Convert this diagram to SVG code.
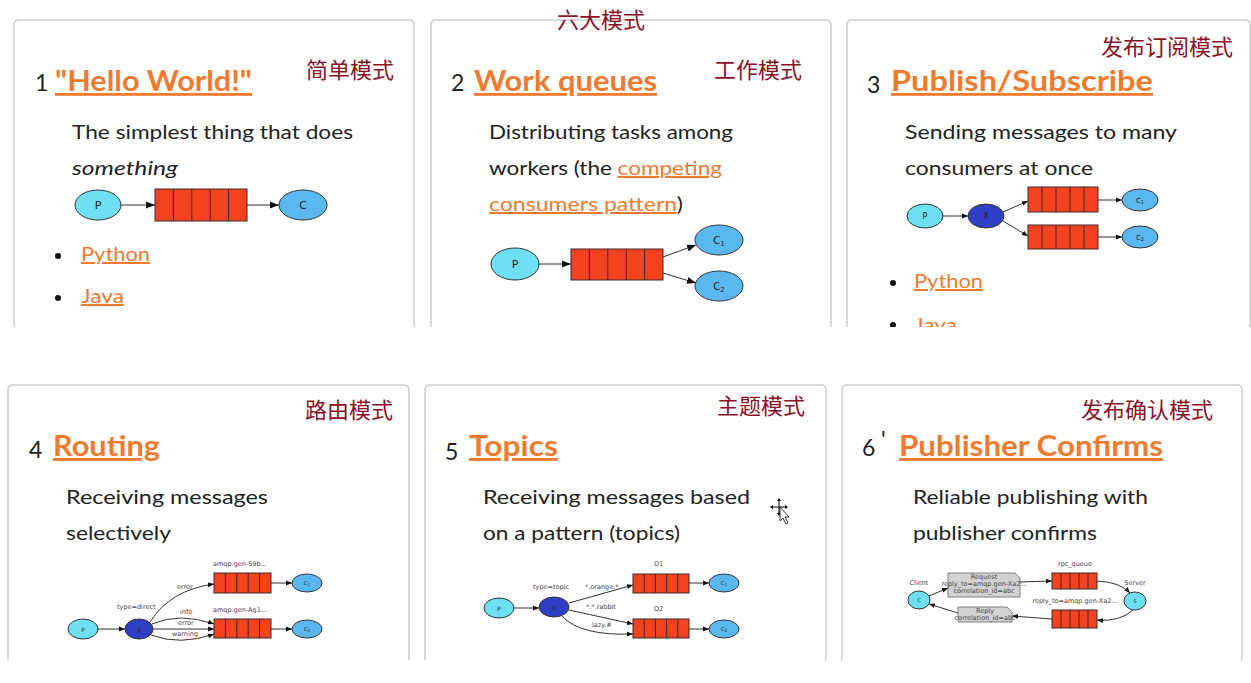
<svg xmlns="http://www.w3.org/2000/svg" width="1251" height="683" viewBox="0 0 1251 683">
<style>
.panel{fill:#fff;stroke:#cfcfcf;stroke-width:1.6}
.num{font-family:Lato,"Open Sans",sans-serif;font-size:23px;fill:#222}
.title{font-family:Lato,"Open Sans",sans-serif;font-size:28px;font-weight:bold;fill:#f07a2e;text-decoration:underline}
.body{font-family:Lato,"Open Sans",sans-serif;font-size:20px;fill:#222}
.link{fill:#f07a2e;text-decoration:underline}
.cn{font-family:"Noto Sans CJK SC",sans-serif;font-size:22px;fill:#8b1026}
.q{fill:#f5431f;stroke:#3a2a2a;stroke-width:1}
.qd{stroke:#3a2a2a;stroke-width:1}
.p{fill:#6de0f3;stroke:#333;stroke-width:1}
.c{fill:#5ab8ef;stroke:#333;stroke-width:1}
.x{fill:#2f3fc4;stroke:#333;stroke-width:1}
.lbl{font-family:"DejaVu Sans",sans-serif;fill:#222;text-anchor:middle}
.sm{font-family:"DejaVu Sans",sans-serif;font-size:6.5px;fill:#444}
.edge{fill:none;stroke:#333;stroke-width:1}
.bullet{fill:#111}
.box{fill:#d2d2d2;stroke:#666;stroke-width:0.8}
</style>
<defs>
<marker id="ab" viewBox="0 0 10 10" refX="10" refY="5" markerWidth="9" markerHeight="9" markerUnits="userSpaceOnUse" orient="auto"><path d="M0,1 L10,5 L0,9 z" fill="#111"/></marker>
<marker id="as" viewBox="0 0 10 10" refX="10" refY="5" markerWidth="6" markerHeight="6" markerUnits="userSpaceOnUse" orient="auto"><path d="M0,1 L10,5 L0,9 z" fill="#111"/></marker>
<clipPath id="topclip"><rect x="0" y="0" width="1251" height="327"/></clipPath>
<clipPath id="botclip"><rect x="0" y="340" width="1251" height="320"/></clipPath>
</defs>
<rect width="1251" height="683" fill="#fff"/>

<!-- panel frames -->
<g id="frames">
<path class="panel" d="M14,327 V25 Q14,20 19,20 H409 Q414,20 414,25 V327"/>
<path class="panel" d="M431,327 V25 Q431,20 436,20 H826 Q831,20 831,25 V327"/>
<path class="panel" d="M847,327 V25 Q847,20 852,20 H1245 Q1250,20 1250,25 V327"/>
<path class="panel" d="M8,660 V390 Q8,385 13,385 H404 Q409,385 409,390 V660"/>
<path class="panel" d="M425,660 V390 Q425,385 430,385 H821 Q826,385 826,390 V660"/>
<path class="panel" d="M842,660 V390 Q842,385 847,385 H1237 Q1242,385 1242,390 V660"/>
</g>

<text class="cn" x="557" y="28">六大模式</text>

<!-- Panel 1 -->
<g id="panel1" clip-path="url(#topclip)">
<text class="num" x="35" y="91">1</text>
<text class="title" x="55" y="91" textLength="197" lengthAdjust="spacingAndGlyphs">"Hello World!"</text>
<text class="cn" x="306" y="78">简单模式</text>
<text class="body" x="72" y="139" textLength="281" lengthAdjust="spacingAndGlyphs">The simplest thing that does</text>
<text class="body" x="72" y="175" font-style="italic" textLength="106" lengthAdjust="spacingAndGlyphs">something</text>
<circle class="bullet" cx="58" cy="256" r="3"/>
<text class="body link" x="81" y="261" textLength="69" lengthAdjust="spacingAndGlyphs">Python</text>
<circle class="bullet" cx="58" cy="298" r="3"/>
<text class="body link" x="81" y="303" textLength="43" lengthAdjust="spacingAndGlyphs">Java</text>
</g>
<g id="p1-P"><ellipse class="p" cx="98" cy="205" rx="23" ry="15"/><text class="lbl" x="98" y="209" font-size="11">P</text></g>
<g id="p1-queue"><rect class="q" x="155" y="189" width="92" height="32"/><path class="qd" d="M173.4,189v32M191.8,189v32M210.2,189v32M228.6,189v32"/></g>
<g id="p1-C"><ellipse class="c" cx="303" cy="205" rx="24" ry="15"/><text class="lbl" x="303" y="209" font-size="11">C</text></g>

<!-- Panel 2 -->
<g id="panel2" clip-path="url(#topclip)">
<text class="num" x="451" y="91">2</text>
<text class="title" x="474" y="91" textLength="183" lengthAdjust="spacingAndGlyphs">Work queues</text>
<text class="cn" x="714" y="78">工作模式</text>
<text class="body" x="489" y="139" textLength="244" lengthAdjust="spacingAndGlyphs">Distributing tasks among</text>
<text class="body" x="489" y="175" textLength="233" lengthAdjust="spacingAndGlyphs">workers (the <tspan class="link">competing</tspan></text>
<text class="body" x="489" y="211" textLength="194" lengthAdjust="spacingAndGlyphs"><tspan class="link">consumers pattern</tspan>)</text>
</g>
<g id="p2-P"><ellipse class="p" cx="515" cy="264" rx="24" ry="16"/><text class="lbl" x="515" y="268" font-size="11">P</text></g>
<g id="p2-queue"><rect class="q" x="571" y="249" width="92" height="31"/><path class="qd" d="M589.4,249v31M607.8,249v31M626.2,249v31M644.6,249v31"/></g>
<g id="p2-C1"><ellipse class="c" cx="719" cy="240" rx="24" ry="15"/><text class="lbl" x="719" y="244" font-size="10">C<tspan font-size="7" dy="2">1</tspan></text></g>
<g id="p2-C2"><ellipse class="c" cx="719" cy="286" rx="24" ry="15"/><text class="lbl" x="719" y="290" font-size="10">C<tspan font-size="7" dy="2">2</tspan></text></g>

<!-- Panel 3 -->
<g id="panel3" clip-path="url(#topclip)">
<text class="num" x="867" y="93">3</text>
<text class="title" x="891" y="91" textLength="262" lengthAdjust="spacingAndGlyphs">Publish/Subscribe</text>
<text class="cn" x="1101" y="55">发布订阅模式</text>
<text class="body" x="905" y="139" textLength="272" lengthAdjust="spacingAndGlyphs">Sending messages to many</text>
<text class="body" x="905" y="175" textLength="188" lengthAdjust="spacingAndGlyphs">consumers at once</text>
<circle class="bullet" cx="893" cy="283" r="3"/>
<text class="body link" x="914" y="288" textLength="69" lengthAdjust="spacingAndGlyphs">Python</text>
<circle class="bullet" cx="893" cy="325" r="3"/>
<text class="body link" x="914" y="332" textLength="43" lengthAdjust="spacingAndGlyphs">Java</text>
</g>
<g id="p3-P"><ellipse class="p" cx="925" cy="216" rx="18" ry="12"/><text class="lbl" x="925" y="219" font-size="8">P</text></g>
<g id="p3-X"><ellipse class="x" cx="986" cy="216" rx="18" ry="12"/><text class="lbl" x="986" y="219" font-size="8" fill="#222">X</text></g>
<g id="p3-Q1"><rect class="q" x="1028" y="187" width="70" height="25"/><path class="qd" d="M1042,187v25M1056,187v25M1070,187v25M1084,187v25"/></g>
<g id="p3-Q2"><rect class="q" x="1028" y="225" width="70" height="24"/><path class="qd" d="M1042,225v24M1056,225v24M1070,225v24M1084,225v24"/></g>
<g id="p3-C1"><ellipse class="c" cx="1140" cy="200" rx="18" ry="11"/><text class="lbl" x="1140" y="203" font-size="7">C<tspan font-size="5" dy="1">1</tspan></text></g>
<g id="p3-C2"><ellipse class="c" cx="1140" cy="237" rx="18" ry="11"/><text class="lbl" x="1140" y="240" font-size="7">C<tspan font-size="5" dy="1">2</tspan></text></g>

<!-- Panel 4 -->
<g id="panel4" clip-path="url(#botclip)">
<text class="num" x="29" y="458">4</text>
<text class="title" x="53" y="456" textLength="107" lengthAdjust="spacingAndGlyphs">Routing</text>
<text class="cn" x="305" y="418">路由模式</text>
<text class="body" x="66" y="504" textLength="202" lengthAdjust="spacingAndGlyphs">Receiving messages</text>
<text class="body" x="66" y="540" textLength="105" lengthAdjust="spacingAndGlyphs">selectively</text>
<text class="sm" x="213" y="566">amqp.gen-S9b...</text>
<text class="sm" x="213" y="612">amqp.gen-Ag1...</text>
<text class="sm" x="117" y="609">type=direct</text>
<text class="sm" x="177" y="589">error</text>
<text class="sm" x="180" y="614">info</text>
<text class="sm" x="178" y="625">error</text>
<text class="sm" x="172" y="636">warning</text>
</g>
<g id="p4-P"><ellipse class="p" cx="83" cy="629" rx="15" ry="10"/><text class="lbl" x="83" y="632" font-size="6">P</text></g>
<g id="p4-X"><ellipse class="x" cx="139" cy="629" rx="14" ry="10"/><text class="lbl" x="139" y="632" font-size="6">X</text></g>
<g id="p4-Q1"><rect class="q" x="214" y="573" width="57" height="20"/><path class="qd" d="M225.4,573v20M236.8,573v20M248.2,573v20M259.6,573v20"/></g>
<g id="p4-Q2"><rect class="q" x="214" y="619" width="57" height="19"/><path class="qd" d="M225.4,619v19M236.8,619v19M248.2,619v19M259.6,619v19"/></g>
<g id="p4-C1"><ellipse class="c" cx="307" cy="583" rx="15" ry="9"/><text class="lbl" x="307" y="585" font-size="5.5">C<tspan font-size="4" dy="1">1</tspan></text></g>
<g id="p4-C2"><ellipse class="c" cx="307" cy="629" rx="15" ry="9"/><text class="lbl" x="307" y="631" font-size="5.5">C<tspan font-size="4" dy="1">2</tspan></text></g>

<!-- Panel 5 -->
<g id="panel5" clip-path="url(#botclip)">
<text class="num" x="445" y="460">5</text>
<text class="title" x="469" y="456" textLength="89" lengthAdjust="spacingAndGlyphs">Topics</text>
<text class="cn" x="717" y="414">主题模式</text>
<text class="body" x="483" y="504" textLength="267" lengthAdjust="spacingAndGlyphs">Receiving messages based</text>
<text class="body" x="483" y="540" textLength="197" lengthAdjust="spacingAndGlyphs">on a pattern (topics)</text>
<text class="sm" x="654" y="566">Q1</text>
<text class="sm" x="654" y="611">Q2</text>
<text class="sm" x="533" y="589">type=topic</text>
<text class="sm" x="585" y="589">*.orange.*</text>
<text class="sm" x="586" y="609">*.*.rabbit</text>
<text class="sm" x="592" y="627">lazy.#</text>
</g>
<g id="p5-P"><ellipse class="p" cx="499" cy="608" rx="15" ry="10"/><text class="lbl" x="499" y="611" font-size="6">P</text></g>
<g id="p5-X"><ellipse class="x" cx="554" cy="607" rx="15" ry="10"/><text class="lbl" x="554" y="610" font-size="6">X</text></g>
<g id="p5-Q1"><rect class="q" x="633" y="574" width="56" height="19"/><path class="qd" d="M644.2,574v19M655.4,574v19M666.6,574v19M677.8,574v19"/></g>
<g id="p5-Q2"><rect class="q" x="633" y="619" width="56" height="19"/><path class="qd" d="M644.2,619v19M655.4,619v19M666.6,619v19M677.8,619v19"/></g>
<g id="p5-C1"><ellipse class="c" cx="724" cy="583" rx="15" ry="9"/><text class="lbl" x="724" y="585" font-size="5.5">C<tspan font-size="4" dy="1">1</tspan></text></g>
<g id="p5-C2"><ellipse class="c" cx="724" cy="629" rx="15" ry="9"/><text class="lbl" x="724" y="631" font-size="5.5">C<tspan font-size="4" dy="1">2</tspan></text></g>

<!-- Panel 6 -->
<g id="panel6" clip-path="url(#botclip)">
<text class="num" x="862" y="456">6</text>
<text class="num" x="881" y="448" font-size="12" fill="#666">'</text>
<text class="title" x="899" y="456" textLength="264" lengthAdjust="spacingAndGlyphs">Publisher Confirms</text>
<text class="cn" x="1081" y="418">发布确认模式</text>
<text class="body" x="913" y="504" textLength="235" lengthAdjust="spacingAndGlyphs">Reliable publishing with</text>
<text class="body" x="913" y="540" textLength="184" lengthAdjust="spacingAndGlyphs">publisher confirms</text>
<text class="sm" x="919" y="585" text-anchor="middle" font-size="5">Client</text>
<text class="sm" x="1135" y="585" text-anchor="middle" font-size="5">Server</text>
<text class="sm" x="1075" y="566" text-anchor="middle" font-size="5">rpc_queue</text>
<text class="sm" x="1075" y="603" text-anchor="middle" font-size="5">reply_to=amqp.gen-Xa2...</text>
</g>
<g id="p6-client"><ellipse class="p" cx="919" cy="600" rx="11" ry="9"/><text class="lbl" x="919" y="602" font-size="5">C</text></g>
<g id="p6-request"><path class="box" d="M948,573 H1015 L1020,578 V597 H948 Z"/><text class="sm" x="984" y="579" text-anchor="middle" font-size="4.4">Request</text><text class="sm" x="984" y="586" text-anchor="middle" font-size="4.4">reply_to=amqp.gen-Xa2...</text><text class="sm" x="984" y="593" text-anchor="middle" font-size="4.4">correlation_id=abc</text></g>
<g id="p6-rpcq"><rect class="q" x="1052" y="573" width="45" height="16"/><path class="qd" d="M1061,573v16M1070,573v16M1079,573v16M1088,573v16"/></g>
<g id="p6-server"><ellipse class="p" cx="1135" cy="601" rx="11" ry="9"/><text class="lbl" x="1135" y="603" font-size="5">S</text></g>
<g id="p6-replyq"><rect class="q" x="1052" y="610" width="45" height="18"/><path class="qd" d="M1061,610v18M1070,610v18M1079,610v18M1088,610v18"/></g>
<g id="p6-reply"><path class="box" d="M958,607 H1007 L1012,612 V622 H958 Z"/><text class="sm" x="985" y="613" text-anchor="middle" font-size="4.4">Reply</text><text class="sm" x="985" y="620" text-anchor="middle" font-size="4.4">correlation_id=abc</text></g>

<!-- connectors -->
<g id="connectors">
<path class="edge" d="M121,205 H155" marker-end="url(#ab)"/>
<path class="edge" d="M247,205 H279" marker-end="url(#ab)"/>
<path class="edge" d="M539,264 H571" marker-end="url(#ab)"/>
<path class="edge" d="M663,257 L696,245" marker-end="url(#ab)"/>
<path class="edge" d="M663,273 L696,283" marker-end="url(#ab)"/>
<path class="edge" d="M943,216 H968" marker-end="url(#as)"/>
<path class="edge" d="M1003,212 L1028,201" marker-end="url(#as)"/>
<path class="edge" d="M1003,221 L1028,236" marker-end="url(#as)"/>
<path class="edge" d="M1098,200 H1122" marker-end="url(#as)"/>
<path class="edge" d="M1098,237 H1122" marker-end="url(#as)"/>
<path class="edge" d="M98,629 H125" marker-end="url(#as)"/>
<path class="edge" d="M150,622 Q170,590 214,584" marker-end="url(#as)"/>
<path class="edge" d="M152,624 Q180,612 214,624" marker-end="url(#as)"/>
<path class="edge" d="M153,629 H214" marker-end="url(#as)"/>
<path class="edge" d="M151,635 Q180,646 214,634" marker-end="url(#as)"/>
<path class="edge" d="M271,583 H292" marker-end="url(#as)"/>
<path class="edge" d="M271,629 H292" marker-end="url(#as)"/>
<path class="edge" d="M514,608 H539" marker-end="url(#as)"/>
<path class="edge" d="M569,603 L633,585" marker-end="url(#as)"/>
<path class="edge" d="M569,610 L633,624" marker-end="url(#as)"/>
<path class="edge" d="M562,616 Q580,636 633,634" marker-end="url(#as)"/>
<path class="edge" d="M689,583 H709" marker-end="url(#as)"/>
<path class="edge" d="M689,629 H709" marker-end="url(#as)"/>
<path class="edge" d="M929,596 L948,588" marker-end="url(#as)"/>
<path class="edge" d="M1020,582 L1052,581" marker-end="url(#as)"/>
<path class="edge" d="M1097,581 Q1120,582 1130,593" marker-end="url(#as)"/>
<path class="edge" d="M1133,610 Q1120,622 1097,620" marker-end="url(#as)"/>
<path class="edge" d="M1052,619 L1012,616" marker-end="url(#as)"/>
<path class="edge" d="M958,613 L929,604" marker-end="url(#as)"/>
</g>

<!-- mouse cursor -->
<g id="cursor" fill="#000" stroke="none">
<path d="M779,500 V514 M772,507 H786" stroke="#000" stroke-width="1"/>
<path d="M779,498 l-2,3 h4 z M779,516 l-2,-3 h4 z M770,507 l3,-2 v4 z M788,507 l-3,-2 v4 z"/>
<path d="M780,507 V521 L783,518 L786,524 L788,523 L785,517 L789,517 Z" fill="#fff" stroke="#000" stroke-width="0.8"/>
</g>
</svg>
